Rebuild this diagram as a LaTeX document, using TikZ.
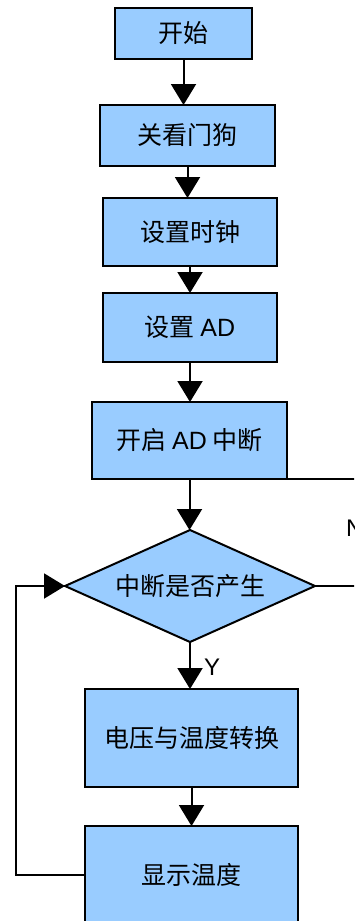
\documentclass[tikz,border=0pt]{standalone}
\usepackage{fontspec}
\setmainfont{Noto Sans CJK SC}
\newfontfamily\latinsans{Liberation Sans}
\usetikzlibrary{arrows.meta,shapes.geometric}
\definecolor{boxblue}{HTML}{99CCFF}
\tikzset{
  proc/.style={draw=black, line width=2pt, fill=boxblue, inner sep=0pt, outer sep=0pt, font=\fontsize{25}{27}\selectfont},
  decis/.style={diamond, draw=black, line width=2pt, fill=boxblue, inner sep=0pt, outer sep=0pt, aspect=2.2, font=\fontsize{25}{27}\selectfont},
  flow/.style={line width=2pt, -{Triangle[length=21pt,width=25pt]}},
  plain/.style={line width=2pt},
  lbl/.style={font=\latinsans\fontsize{24}{26}\selectfont, inner sep=0pt}
}
\begin{document}
\begin{tikzpicture}[x=1pt,y=-1pt]
\useasboundingbox (0,0) rectangle (354,921);
\clip (0,0) rectangle (354,921);
\node[proc, minimum width=137pt, minimum height=51pt] (s1) at (183.5,33.5) {开始};
\node[proc, minimum width=175pt, minimum height=61pt] (s2) at (187.5,135.5) {关看门狗};
\node[proc, minimum width=174pt, minimum height=68pt] (s3) at (190,232) {设置时钟};
\node[proc, minimum width=174pt, minimum height=69pt] (s4) at (190,327.5) {设置 {\latinsans AD}};
\node[proc, minimum width=195pt, minimum height=77pt] (s5) at (189.5,440.5) {开启 {\latinsans AD} 中断};
\node[decis, minimum width=250pt, minimum height=112pt] (d) at (190,586) {中断是否产生};
\node[proc, minimum width=213pt, minimum height=98pt] (s6) at (191.5,738) {电压与温度转换};
\node[proc, minimum width=213pt, minimum height=98pt] (s7) at (191.5,875) {显示温度};
\coordinate (nr) at (375,586);
\coordinate (nt) at (375,479);
\coordinate (lb) at (16,875);
\coordinate (lt) at (16,586);

\draw[flow] (s1.south) -- (s1.south |- s2.north);
\draw[flow] (s2.south) -- (s2.south |- s3.north);
\draw[flow] (s3.south) -- (s3.south |- s4.north);
\draw[flow] (s4.south) -- (s4.south |- s5.north);
\draw[flow] (s5.south) -- (s5.south |- d.north);
\draw[flow] (d.south) -- (d.south |- s6.north);
\draw[flow] (s6.south) -- (s6.south |- s7.north);
\draw[flow] (s7.west) -- (lb) -- (lt) -- (d.west);
\draw[plain] (d.east) -- (nr) -- (nt) -- (s5.south east);

\node[lbl, anchor=west] (y) at (204,667) {Y};
\node[lbl, anchor=west] (n) at (346,528) {N};
\end{tikzpicture}
\end{document}
